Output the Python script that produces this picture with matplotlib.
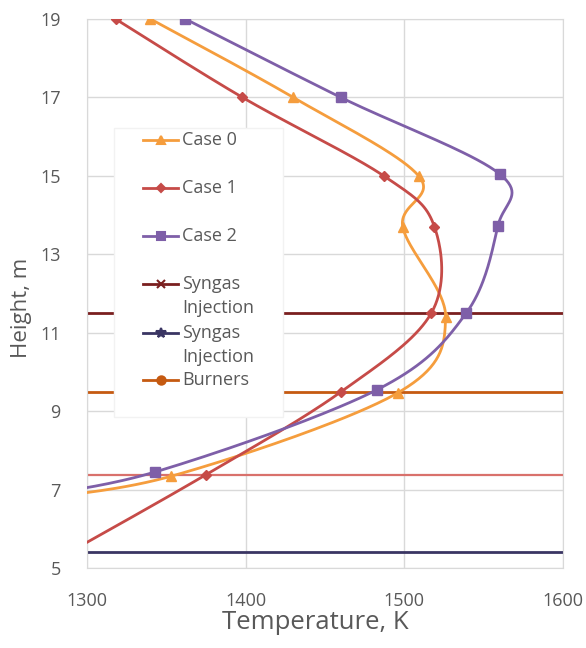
import numpy as np
import matplotlib
matplotlib.use("Agg")
import matplotlib.pyplot as plt
from matplotlib.lines import Line2D
from matplotlib.patches import Rectangle

plt.rcParams['font.family'] = ['Open Sans', 'DejaVu Sans']

# temperature profiles (K) against height (m)
height0 = [19, 17, 15, 13.7, 11.4, 9.47, 7.34, 6.7]
temp0 = [1340, 1430, 1509, 1499, 1526, 1496, 1353, 1250]
height1 = [19, 17, 15, 13.7, 11.5, 9.49, 7.38, 5.2]
temp1 = [1318, 1398, 1487, 1519, 1517, 1460, 1375, 1280]
height2 = [19, 17, 15.05, 13.73, 11.5, 9.55, 7.45, 6.75]
temp2 = [1362, 1460, 1560, 1559, 1539, 1483, 1343, 1250]

# horizontal reference levels (m)
syngas_upper = 11.5
syngas_lower = 5.4
burners = 9.5
lower_level = 7.37

xticks = [1300, 1400, 1500, 1600]
yticks = [5, 7, 9, 11, 13, 15, 17, 19]

c_case0 = '#f59d3d'
c_case1 = '#c64b48'
c_case2 = '#7e5fa8'
c_syn1 = '#7a1f1f'
c_syn2 = '#3a3563'
c_burn = '#c55a11'
c_low = '#d9716c'
txt = '#595959'


def smooth(T, H, n=40):
    # excel-like smoothed line: Catmull-Rom bezier in screen-ish units
    sx, sy = 476 / 300.0, 549 / 14.0
    P = np.column_stack([(np.array(T) - 1300) * sx, (np.array(H) - 5) * sy])
    P = np.vstack([P[0], P, P[-1]])
    t = np.linspace(0, 1, n)[:, None]
    out = []
    for i in range(1, len(P) - 2):
        b0 = P[i]
        b1 = P[i] + (P[i + 1] - P[i - 1]) / 6
        b2 = P[i + 1] - (P[i + 2] - P[i]) / 6
        b3 = P[i + 1]
        seg = ((1 - t) ** 3) * b0 + 3 * ((1 - t) ** 2) * t * b1 + 3 * (1 - t) * t ** 2 * b2 + t ** 3 * b3
        out.append(seg)
    out = np.vstack(out)
    return out[:, 0] / sx + 1300, out[:, 1] / sy + 5


fig = plt.figure(figsize=(5.86, 6.48), dpi=100)
ax = fig.add_axes([87 / 586, 1 - 568 / 648, 476 / 586, 549 / 648])

ax.set_xlim(1300, 1600)
ax.set_ylim(5, 19)
ax.set_xticks(xticks)
ax.set_yticks(yticks)
ax.grid(True, color='#d9d9d9', linewidth=1)
ax.set_axisbelow(True)
for s in ax.spines.values():
    s.set_color('#d9d9d9')
ax.tick_params(length=0, labelsize=13, colors=txt)
ax.tick_params(axis='x', pad=17)
ax.tick_params(axis='y', pad=19)

for y, c, lw in [(syngas_upper, c_syn1, 2), (syngas_lower, c_syn2, 2),
                 (burners, c_burn, 2), (lower_level, c_low, 1.6)]:
    ax.axhline(y, color=c, linewidth=lw, zorder=2)

for T, H, c, m, ms in [(temp0, height0, c_case0, '^', 7),
                       (temp1, height1, c_case1, 'D', 5),
                       (temp2, height2, c_case2, 's', 7)]:
    xs, ys = smooth(T, H)
    ax.plot(xs, ys, color=c, linewidth=2, zorder=3)
    ax.plot(T, H, linestyle='none', marker=m, markersize=ms, color=c, zorder=4)

ax.set_xlabel('Temperature, K', fontsize=18.5, color=txt)
ax.set_ylabel('Height, m', fontsize=16, color=txt)
ax.xaxis.set_label_coords(0.479, -0.077)
ax.yaxis.set_label_coords(-0.1155, 0.4736)

# legend box drawn by hand to copy the excel spacing
def fx(px):
    return (px - 87) / 476.0


def fy(py):
    return 1 - (py - 19) / 549.0


ax.add_patch(Rectangle((fx(114), fy(417)), fx(283) - fx(114), fy(128) - fy(417),
                       transform=ax.transAxes, facecolor='white', edgecolor='#f2f2f2',
                       zorder=5))
entries = [
    ('Case 0', c_case0, '^', 6, 140),
    ('Case 1', c_case1, 'D', 4, 188),
    ('Case 2', c_case2, 's', 6, 236),
    ('Syngas\nInjection', c_syn1, 'x', 6, 284),
    ('Syngas\nInjection', c_syn2, '*', 7, 333),
    ('Burners', c_burn, 'o', 6, 380),
]
for label, c, m, ms, py in entries:
    ax.add_line(Line2D([fx(143), fx(178)], [fy(py), fy(py)], transform=ax.transAxes,
                       color=c, linewidth=2, zorder=6))
    ax.add_line(Line2D([fx(160.5)], [fy(py)], transform=ax.transAxes, marker=m,
                       markersize=ms, color=c, markeredgewidth=1.5, zorder=7))
    ax.text(fx(182), fy(py) + 0.016, label, transform=ax.transAxes, fontsize=13, color=txt,
            va='top', ha='left', linespacing=1.4, zorder=7)

fig.savefig('out.png', dpi=100)
